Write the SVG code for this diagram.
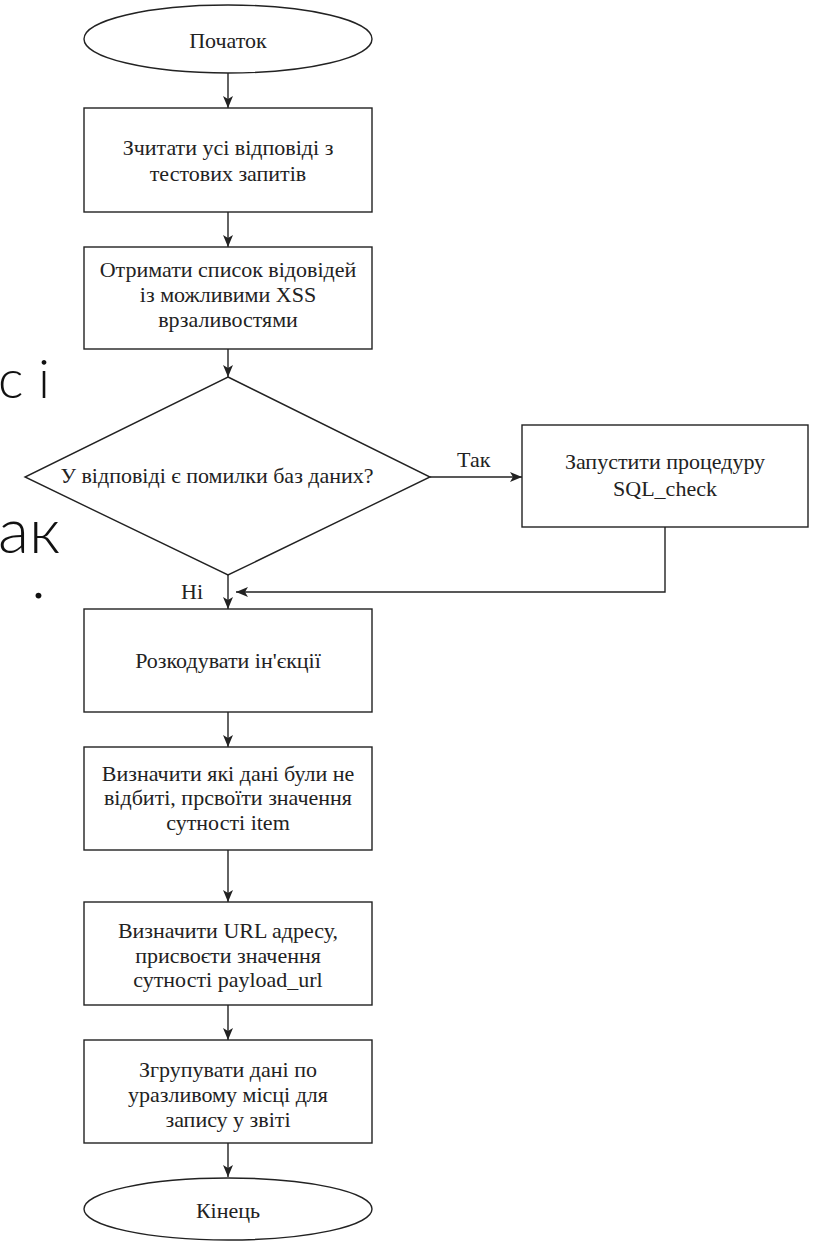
<svg xmlns="http://www.w3.org/2000/svg" width="813" height="1242" viewBox="0 0 813 1242">
<style>
.shape{fill:#fff;stroke:#222;stroke-width:1.4}
.t{font-family:"Times New Roman","Liberation Serif","DejaVu Serif",serif;font-size:22px;fill:#222;text-anchor:middle}
.lbl{font-family:"Times New Roman","Liberation Serif","DejaVu Serif",serif;font-size:22px;fill:#222}
.bg{font-family:Lato,"Open Sans","DejaVu Sans",sans-serif;font-weight:300;fill:#111}
.conn{fill:none;stroke:#222;stroke-width:1.4}
</style>
<defs>
<marker id="arr" markerUnits="userSpaceOnUse" markerWidth="12" markerHeight="10" refX="12" refY="5" orient="auto">
<path d="M0,0 L12,5 L0,10 L3,5 Z" fill="#222"/>
</marker>
</defs>
<rect width="813" height="1242" fill="#fff"/>
<g id="background-text">
<text class="bg" x="-2" y="398" font-size="54">с і</text>
<text class="bg" x="-2" y="553" font-size="64">ак</text>
<text class="bg" x="31" y="598" font-size="64">.</text>
</g>
<g id="connectors">
<path class="conn" d="M228,73 V108" marker-end="url(#arr)"/>
<path class="conn" d="M228,212 V247" marker-end="url(#arr)"/>
<path class="conn" d="M228,349 V377" marker-end="url(#arr)"/>
<path class="conn" d="M228,575 V609" marker-end="url(#arr)"/>
<path class="conn" d="M228,712 V747" marker-end="url(#arr)"/>
<path class="conn" d="M228,850 V902" marker-end="url(#arr)"/>
<path class="conn" d="M228,1005 V1040" marker-end="url(#arr)"/>
<path class="conn" d="M228,1143 V1177" marker-end="url(#arr)"/>
<path class="conn" d="M430,477 H522" marker-end="url(#arr)"/>
<path class="conn" d="M665,527 V592 H236" marker-end="url(#arr)"/>
<text class="lbl" x="457" y="467">Так</text>
<text class="lbl" x="181" y="599">Ні</text>
</g>
<g id="start">
<ellipse class="shape" cx="228" cy="39" rx="144" ry="34"/>
<text class="t" x="228" y="48">Початок</text>
</g>
<g id="read">
<rect class="shape" x="84" y="108" width="288" height="104"/>
<text class="t" x="228" y="155">Зчитати усі відповіді з</text>
<text class="t" x="228" y="181">тестових запитів</text>
</g>
<g id="list">
<rect class="shape" x="84" y="247" width="288" height="102"/>
<text class="t" x="228" y="277">Отримати список відовідей</text>
<text class="t" x="228" y="302">із можливими XSS</text>
<text class="t" x="228" y="327">врзаливостями</text>
</g>
<g id="decision">
<polygon class="shape" points="228,377 430,477 228,575 25,477"/>
<text class="t" x="217" y="483">У відповіді є помилки баз даних?</text>
</g>
<g id="sqlcheck">
<rect class="shape" x="522" y="425" width="286" height="102"/>
<text class="t" x="665" y="469">Запустити процедуру</text>
<text class="t" x="665" y="496">SQL_check</text>
</g>
<g id="decode">
<rect class="shape" x="84" y="609" width="288" height="103"/>
<text class="t" x="228" y="668">Розкодувати ін'єкції</text>
</g>
<g id="item">
<rect class="shape" x="84" y="747" width="288" height="103"/>
<text class="t" x="228" y="781">Визначити які дані були не</text>
<text class="t" x="228" y="805">відбиті, прсвоїти значення</text>
<text class="t" x="228" y="830">сутності item</text>
</g>
<g id="url">
<rect class="shape" x="84" y="902" width="288" height="103"/>
<text class="t" x="228" y="938">Визначити URL адресу,</text>
<text class="t" x="228" y="963">присвоєти значення</text>
<text class="t" x="228" y="987">сутності payload_url</text>
</g>
<g id="group">
<rect class="shape" x="84" y="1040" width="288" height="103"/>
<text class="t" x="228" y="1077">Згрупувати дані по</text>
<text class="t" x="228" y="1102">уразливому місці для</text>
<text class="t" x="228" y="1127">запису у звіті</text>
</g>
<g id="end">
<ellipse class="shape" cx="228" cy="1209" rx="144" ry="31"/>
<text class="t" x="228" y="1218">Кінець</text>
</g>
</svg>
